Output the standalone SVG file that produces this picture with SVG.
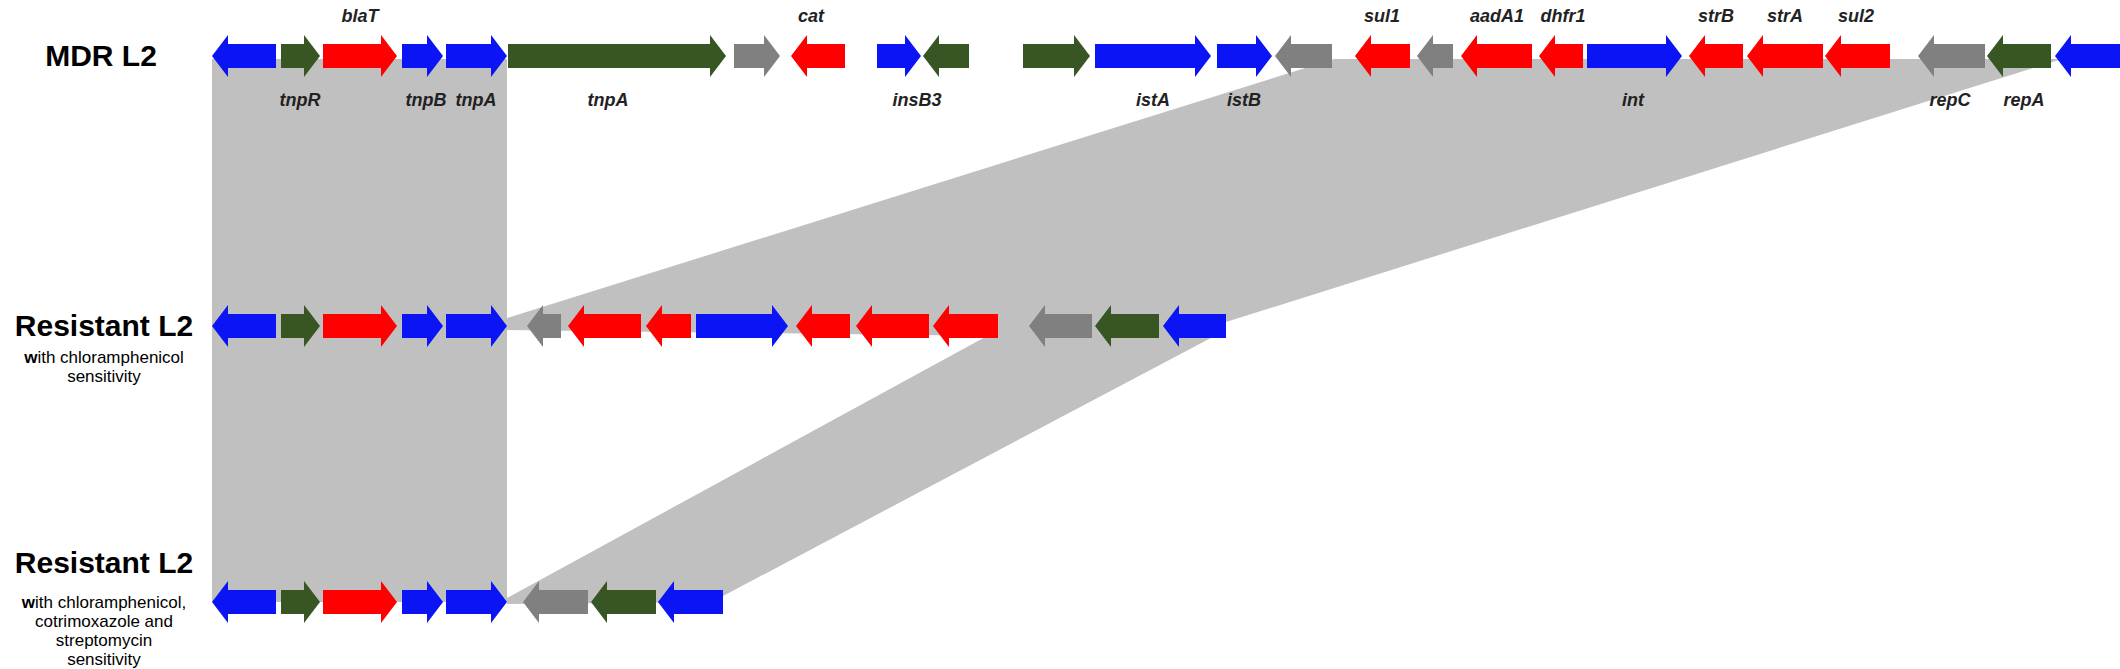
<svg xmlns="http://www.w3.org/2000/svg" width="2120" height="669" viewBox="0 0 2120 669">
<style>
.b{fill:#0a14f5}.g{fill:#375623}.r{fill:#ff0000}.y{fill:#808080}
.sh{fill:#c0c0c0}
.t{font-family:"Liberation Sans",Arial,sans-serif;font-weight:bold;font-size:30px;text-anchor:middle}
.s{font-family:"Liberation Sans",Arial,sans-serif;font-size:17px;text-anchor:middle}
.l{font-family:"Liberation Sans",Arial,sans-serif;font-style:italic;font-weight:bold;font-size:18px;text-anchor:middle;fill:#222}
</style>
<defs>
<g id="common">
<path class="b" d="M276 -12H228V-21L212 0L228 21V12H276Z"/>
<path class="g" d="M281 -12H304V-21L320 0L304 21V12H281Z"/>
<path class="r" d="M323 -12H381V-21L397 0L381 21V12H323Z"/>
<path class="b" d="M402 -12H427V-21L443 0L427 21V12H402Z"/>
<path class="b" d="M446 -12H491V-21L507 0L491 21V12H446Z"/>
</g>
</defs>
<g id="connectors">
<rect class="sh" x="212" y="59" width="295" height="543"/>
<polygon class="sh" points="1334,59 2062,59 1226,322 1226,336 998,336 507,330 507,318"/>
<polygon class="sh" points="998,330 1226,330 723,596 723,602 507,604 507,598"/>
</g>
<g id="row1" transform="translate(0,56)">
<use href="#common"/>
<path class="g" d="M508 -12H710V-21L726 0L710 21V12H508Z"/>
<path class="y" d="M734 -12H764V-21L780 0L764 21V12H734Z"/>
<path class="r" d="M845 -12H807V-21L791 0L807 21V12H845Z"/>
<path class="b" d="M877 -12H905V-21L921 0L905 21V12H877Z"/>
<path class="g" d="M969 -12H939V-21L923 0L939 21V12H969Z"/>
<path class="g" d="M1023 -12H1074V-21L1090 0L1074 21V12H1023Z"/>
<path class="b" d="M1095 -12H1195V-21L1211 0L1195 21V12H1095Z"/>
<path class="b" d="M1217 -12H1256V-21L1272 0L1256 21V12H1217Z"/>
<path class="y" d="M1332 -12H1291V-21L1275 0L1291 21V12H1332Z"/>
<path class="r" d="M1410 -12H1371V-21L1355 0L1371 21V12H1410Z"/>
<path class="y" d="M1453 -12H1433V-21L1417 0L1433 21V12H1453Z"/>
<path class="r" d="M1532 -12H1477V-21L1461 0L1477 21V12H1532Z"/>
<path class="r" d="M1583 -12H1555V-21L1539 0L1555 21V12H1583Z"/>
<path class="b" d="M1587 -12H1666V-21L1682 0L1666 21V12H1587Z"/>
<path class="r" d="M1743 -12H1705V-21L1689 0L1705 21V12H1743Z"/>
<path class="r" d="M1823 -12H1763V-21L1747 0L1763 21V12H1823Z"/>
<path class="r" d="M1890 -12H1841V-21L1825 0L1841 21V12H1890Z"/>
<path class="y" d="M1985 -12H1934V-21L1918 0L1934 21V12H1985Z"/>
<path class="g" d="M2051 -12H2003V-21L1987 0L2003 21V12H2051Z"/>
<path class="b" d="M2120 -12H2071V-21L2055 0L2071 21V12H2120Z"/>
</g>
<g id="row2" transform="translate(0,326)">
<use href="#common"/>
<path class="y" d="M561 -12H543V-21L527 0L543 21V12H561Z"/>
<path class="r" d="M641 -12H584V-21L568 0L584 21V12H641Z"/>
<path class="r" d="M691 -12H662V-21L646 0L662 21V12H691Z"/>
<path class="b" d="M696 -12H772V-21L788 0L772 21V12H696Z"/>
<path class="r" d="M850 -12H812V-21L796 0L812 21V12H850Z"/>
<path class="r" d="M929 -12H872V-21L856 0L872 21V12H929Z"/>
<path class="r" d="M998 -12H949V-21L933 0L949 21V12H998Z"/>
<path class="y" d="M1092 -12H1045V-21L1029 0L1045 21V12H1092Z"/>
<path class="g" d="M1159 -12H1111V-21L1095 0L1111 21V12H1159Z"/>
<path class="b" d="M1226 -12H1179V-21L1163 0L1179 21V12H1226Z"/>
</g>
<g id="row3" transform="translate(0,602)">
<use href="#common"/>
<path class="y" d="M588 -12H539V-21L523 0L539 21V12H588Z"/>
<path class="g" d="M656 -12H607V-21L591 0L607 21V12H656Z"/>
<path class="b" d="M723 -12H674V-21L658 0L674 21V12H723Z"/>
</g>
<g id="gene-labels">
<text class="l" x="360" y="22">blaT</text>
<text class="l" x="811" y="22">cat</text>
<text class="l" x="1382" y="22">sul1</text>
<text class="l" x="1497" y="22">aadA1</text>
<text class="l" x="1563" y="22">dhfr1</text>
<text class="l" x="1716" y="22">strB</text>
<text class="l" x="1785" y="22">strA</text>
<text class="l" x="1856" y="22">sul2</text>
<text class="l" x="300" y="106">tnpR</text>
<text class="l" x="426" y="106">tnpB</text>
<text class="l" x="476" y="106">tnpA</text>
<text class="l" x="608" y="106">tnpA</text>
<text class="l" x="917" y="106">insB3</text>
<text class="l" x="1153" y="106">istA</text>
<text class="l" x="1244" y="106">istB</text>
<text class="l" x="1633" y="106">int</text>
<text class="l" x="1950" y="106">repC</text>
<text class="l" x="2024" y="106">repA</text>
</g>
<g id="row-labels">
<text class="t" x="101" y="66">MDR L2</text>
<text class="t" x="104" y="336">Resistant L2</text>
<text class="s" x="104" y="363"><tspan font-weight="bold">w</tspan>ith chloramphenicol</text>
<text class="s" x="104" y="382">sensitivity</text>
<text class="t" x="104" y="573">Resistant L2</text>
<text class="s" x="104" y="608"><tspan font-weight="bold">w</tspan>ith chloramphenicol,</text>
<text class="s" x="104" y="627">cotrimoxazole and</text>
<text class="s" x="104" y="646">streptomycin</text>
<text class="s" x="104" y="665">sensitivity</text>
</g>
</svg>
